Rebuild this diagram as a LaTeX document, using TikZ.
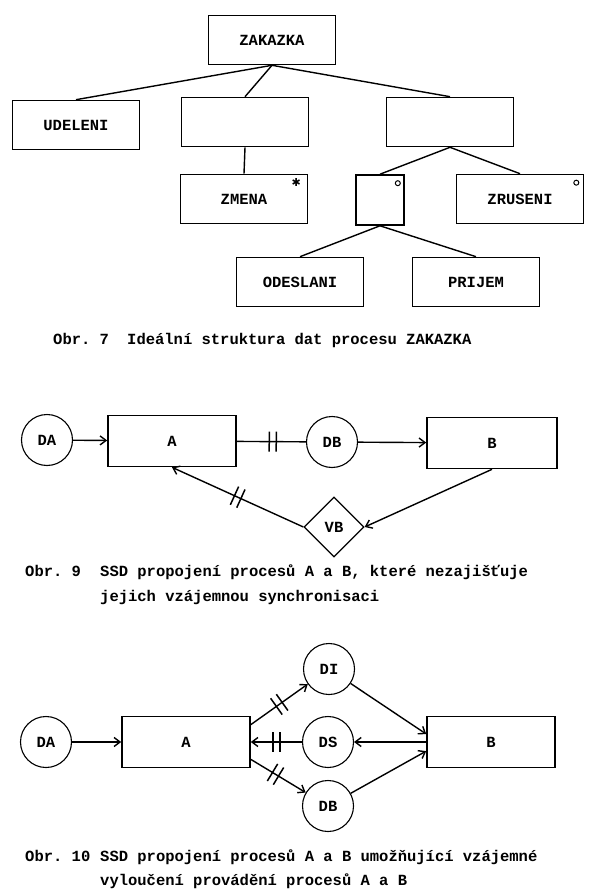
\documentclass[tikz,border=0pt]{standalone}
\usepackage{fontspec}
\setmonofont{Liberation Mono}
\newfontfamily\symfont{DejaVu Sans}
\usetikzlibrary{arrows.meta,shapes.geometric,decorations.markings}

\begin{document}
\begin{tikzpicture}[x=1pt,y=-1pt,
		every node/.style={font=\ttfamily\bfseries\fontsize{15.5}{18}\selectfont},
		box/.style={draw, line width=1.6pt, minimum width=127, minimum height=49, inner sep=0},
		sbox/.style={draw, line width=1.6pt, minimum width=128, minimum height=51, inner sep=0},
		stor/.style={draw, circle, line width=1.1pt, minimum size=51, inner sep=0},
		obr/.style={anchor=base west, inner sep=0},
		ln/.style={line width=1.4pt},
		arr/.style={-{Straight Barb[length=6pt,width=9pt]}, line width=1.4pt},
		dbar/.style={postaction={decorate,decoration={markings,mark=at position #1 with {\draw[-, line width=1.5pt] (-3.5pt,-10pt) -- (-3.5pt,10pt) (3.5pt,-10pt) -- (3.5pt,10pt);}}}}]
			\useasboundingbox (0,0) rectangle (593,890);
			\node[box] (zak) at (272,40) {ZAKAZKA};
			\node[box] (ude) at (76,125) {UDELENI};
			\node[box] (m1) at (245,122) {};
			\node[box] (m2) at (450,122) {};
			\node[box] (zme) at (244,199) {ZMENA};
			\node[box, minimum width=48, minimum height=50] (sel) at (380,200) {};
			\node[box] (zru) at (520,199) {ZRUSENI};
			\node[box] (ode) at (300,282) {ODESLANI};
			\node[box] (pri) at (476,282) {PRIJEM};
			\draw[ln] (zak.south) -- (ude.north);
			\draw[ln] (zak.south) -- (m1.north);
			\draw[ln] (zak.south) -- (m2.north);
			\draw[ln] (m1.south) -- (zme.north);
			\draw[ln] (m2.south) -- (sel.north);
			\draw[ln] (m2.south) -- (zru.north);
			\draw[ln] (sel.south) -- (ode.north);
			\draw[ln] (sel.south) -- (pri.north);
			\node[font=\symfont\fontsize{11}{11}\selectfont, inner sep=0] (star) at ([xshift=-12pt,yshift=-9pt]zme.north east) {✱};
			\draw[line width=1pt] ([xshift=-7pt,yshift=-9pt]sel.north east) circle (2.5pt);
			\draw[line width=1pt] ([xshift=-8pt,yshift=-9pt]zru.north east) circle (2.5pt);
			\node[obr] (c7) at (53,344) {Obr. 7};
			\node[obr] (c7t) at (127,344) {Ideální struktura dat procesu ZAKAZKA};

			\node[stor] (da) at (47,440) {DA};
			\node[sbox] (a) at (172,441) {A};
			\node[stor] (db) at (332,442) {DB};
			\node[sbox, minimum width=130] (b) at (492,443) {B};
			\node[draw, diamond, line width=1.3pt, minimum width=60, minimum height=60, inner sep=0] (vb) at (334,527) {VB};
			\draw[arr] (da) -- (a);
			\draw[ln, dbar=0.52] (a) -- (db);
			\draw[arr] (db) -- (b);
			\draw[arr] (b.south) -- (vb.east);
			\draw[arr, dbar=0.5] (vb.west) -- (a.south);
			\node[obr] (c9) at (25,576) {Obr. 9};
			\node[obr] (c9t) at (100,576) {SSD propojení procesů A a B, které nezajišťuje};
			\node[obr] (c9u) at (100,601) {jejich vzájemnou synchronisaci};

			\node[stor] (da3) at (46,742) {DA};
			\node[sbox] (a3) at (186,742) {A};
			\node[stor] (di) at (329,669) {DI};
			\node[stor] (ds) at (328,742) {DS};
			\node[stor] (dbb) at (328,806) {DB};
			\node[sbox] (b3) at (491,742) {B};
			\draw[arr] (da3) -- (a3);
			\draw[arr, dbar=0.5] (a3.15) -- (di);
			\draw[arr] (di) -- (b3.173);
			\draw[arr] (b3.west) -- (ds);
			\draw[arr, dbar=0.5] (ds) -- (a3.east);
			\draw[arr, dbar=0.45] (a3.-15) -- (dbb);
			\draw[arr] (dbb) -- (b3.188);
			\node[obr] (c10) at (25,861) {Obr. 10};
			\node[obr] (c10t) at (100,861) {SSD propojení procesů A a B umožňující vzájemné};
			\node[obr] (c10u) at (100,885) {vyloučení provádění procesů A a B};
		\end{tikzpicture}
\end{document}
